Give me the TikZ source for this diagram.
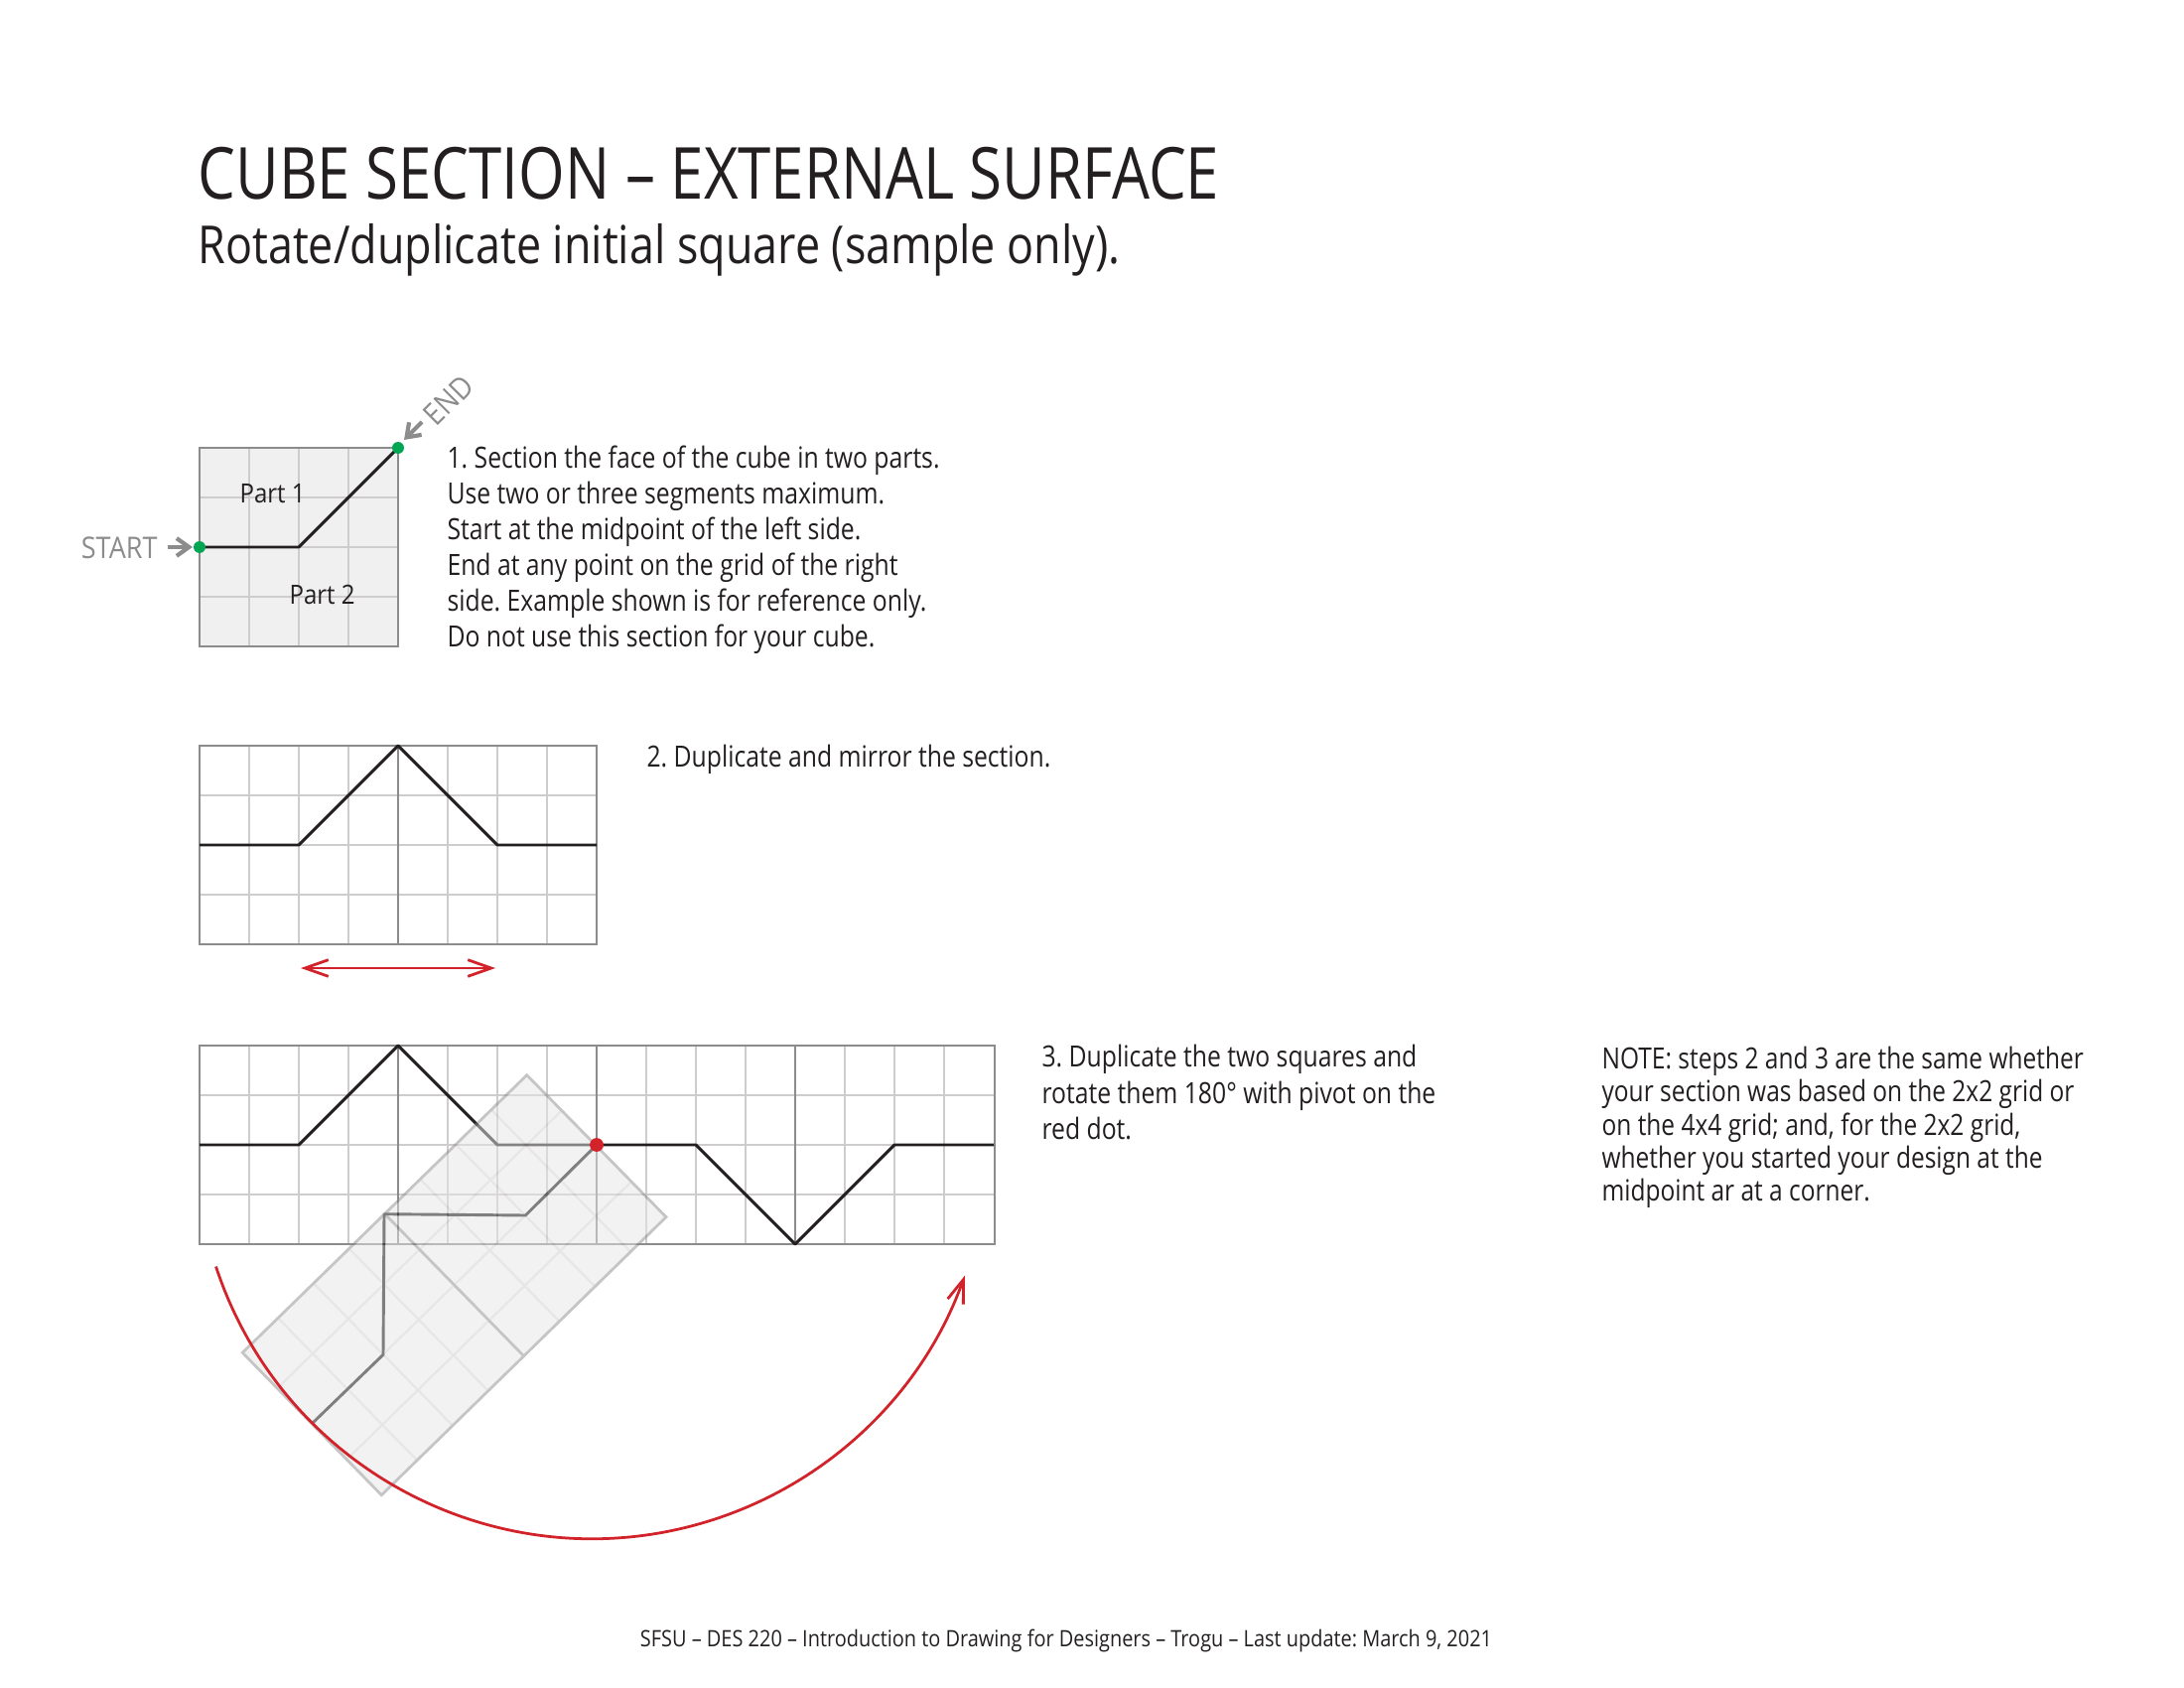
\documentclass[tikz,border=0pt]{standalone}
\usepackage{fontspec}
\usetikzlibrary{arrows.meta,calc}
\setmainfont[FakeStretch=0.9]{Open Sans}
\newfontfamily\titlefont[FakeStretch=0.83]{Open Sans}
\newfontfamily\subfont[FakeStretch=0.85]{Open Sans}
\newfontfamily\bodyfont[FakeStretch=0.84]{Open Sans}
\newfontfamily\notefont[FakeStretch=0.832]{Open Sans}
\newfontfamily\footfont[FakeStretch=0.875]{Open Sans}
\definecolor{ink}{HTML}{231F20}
\definecolor{frame}{HTML}{8C8C8C}
\definecolor{cell}{HTML}{CFCCCC}
\definecolor{redtone}{HTML}{D2232A}
\definecolor{greentone}{HTML}{00A651}
\tikzset{
  frameline/.style={draw=frame,line width=1pt},
  cellline/.style={draw=cell,line width=.75pt},
  section/.style={draw=ink,line width=1.05pt,line join=round},
  redarrow/.style={draw=redtone,line width=1pt,{Straight Barb[length=8.5pt,width=6pt,line width=1pt]}-{Straight Barb[length=8.5pt,width=6pt,line width=1pt]}},
  redarc/.style={draw=redtone,line width=1pt,-{Straight Barb[length=8.5pt,width=6pt,line width=1pt]}},
  grayarrow/.style={draw=frame,line width=1.5pt,-{Straight Barb[length=4.5pt,width=6.4pt,line width=1.5pt]}},
  txt/.style={inner sep=0pt,anchor=north west,align=left,text=ink,font=\bodyfont\fontsize{10.6pt}{13pt}\selectfont},
  dot/.style={circle,inner sep=0pt,minimum size=4.3pt},
}
\frenchspacing
\begin{document}
\begin{tikzpicture}[x=0.36pt,y=-0.36pt]
\useasboundingbox (0,0) rectangle (2200,1700);
% title
\node[inner sep=0pt,anchor=base west,text=ink,font=\titlefont\fontsize{26pt}{30pt}\selectfont] (title) at (199,201) {CUBE SECTION – EXTERNAL SURFACE};
\node[inner sep=0pt,anchor=base west,text=ink,font=\subfont\fontsize{19pt}{22pt}\selectfont] (subtitle) at (199,266) {Rotate/duplicate initial square (sample only).};
% square 1
\fill[fill=black!6] (201,451) rectangle (401,651);
\foreach \i in {1,2,3}{
  \draw[cellline] ({201+50*\i},451) -- ({201+50*\i},651);
  \draw[cellline] (201,{451+50*\i}) -- (401,{451+50*\i});
}
\draw[frameline] (201,451) rectangle (401,651);
\node[dot] (startdot) at (201,551) {};
\node[dot] (enddot) at (401,451) {};
\draw[section] (startdot.center) -- (301,551) -- (enddot.center);
\node[dot,fill=greentone] at (startdot) {};
\node[dot,fill=greentone] at (enddot) {};
\node[inner sep=0pt,anchor=base west,text=ink,font=\fontsize{9.6pt}{12pt}\selectfont] (part1) at (241,507) {Part 1};
\node[inner sep=0pt,anchor=base west,text=ink,font=\fontsize{9.6pt}{12pt}\selectfont] (part2) at (291,609) {Part 2};
\node[inner sep=0pt,anchor=east,text=frame,font=\fontsize{10.8pt}{13pt}\selectfont] (start) at (159,552) {START};
\node[inner sep=0pt,rotate=45,text=frame,font=\fontsize{11pt}{13pt}\selectfont] (endlabel) at (452,403) {END};
\coordinate (starttip) at (194,551);
\coordinate (startback) at (169,551);
\coordinate (endtip) at (407,443);
\coordinate (endback) at (425,425);
\draw[grayarrow] (startback) -- (starttip);
\draw[grayarrow] (endback) -- (endtip);
\node[txt] (step1) at (450,448) {1. Section the face of the cube in two parts.\\Use two or three segments maximum.\\Start at the midpoint of the left side.\\End at any point on the grid of the right\\side. Example shown is for reference only.\\Do not use this section for your cube.};
% grid 2
\foreach \i in {1,...,7}{\draw[cellline] ({201+50*\i},751) -- ({201+50*\i},951);}
\foreach \i in {1,2,3}{\draw[cellline] (201,{751+50*\i}) -- (601,{751+50*\i});}
\draw[frameline] (201,751) rectangle (601,951);
\draw[frameline] (401,751) -- (401,951);
\draw[section] (201,851) -- (301,851) -- (401,751) -- (501,851) -- (601,851);
\coordinate (mirrorL) at (303,975);
\coordinate (mirrorR) at (499,975);
\draw[redarrow] (mirrorL) -- (mirrorR);
\node[txt] (step2) at (651,750) {2. Duplicate and mirror the section.};
% grid 3
\foreach \i in {1,...,15}{\draw[cellline] ({201+50*\i},1053) -- ({201+50*\i},1253);}
\foreach \i in {1,2,3}{\draw[cellline] (201,{1053+50*\i}) -- (1002,{1053+50*\i});}
\draw[frameline] (201,1053) rectangle (1002,1253);
\foreach \i in {401,601,801}{\draw[frameline] (\i,1053) -- (\i,1253);}
\draw[section] (201,1153) -- (301,1153) -- (401,1053) -- (501,1153) -- (601,1153) -- (701,1153) -- (801,1253) -- (901,1153) -- (1001,1153);
% rotated rectangle
\coordinate (T) at (530.7,1082.7);
\coordinate (R) at (671,1225.7);
\coordinate (B) at (384.3,1505.7);
\coordinate (L) at (244.3,1362.3);
\begin{scope}[transparency group,opacity=.5]
\fill[black!10] (T) -- (R) -- (B) -- (L) -- cycle;
\foreach \i in {1,2,3,5,6,7}{\draw[cellline] ($(T)!\i/8!(L)$) -- ($(R)!\i/8!(B)$);}
\foreach \i in {1,2,3}{\draw[cellline] ($(T)!\i/4!(R)$) -- ($(L)!\i/4!(B)$);}
\draw[frameline] (T) -- (R) -- (B) -- (L) -- cycle;
\draw[frameline] ($(T)!.5!(L)$) -- ($(R)!.5!(B)$);
\draw[section,draw=black] (601,1153) -- (529.3,1224) -- (387,1222.7) -- (386,1364.3) -- (315.7,1432.3);
\end{scope}
\node[dot,fill=redtone,minimum size=5pt] (pivot) at (601,1153) {};
\draw[redarc] (217.5,1275.5) arc[start angle=161.8,end angle=19.6,radius=398.7];
\node[txt] (step3) at (1049,1052) {3. Duplicate the two squares and\\rotate them 180° with pivot on the\\red dot.};
\node[txt,font=\notefont\fontsize{10.6pt}{12pt}\selectfont] (note) at (1613,1053.5) {NOTE: steps 2 and 3 are the same whether\\your section was based on the 2x2 grid or\\on the 4x4 grid; and, for the 2x2 grid,\\whether you started your design at the\\midpoint ar at a corner.};
\node[inner sep=0pt,anchor=base,text=ink,font=\footfont\fontsize{8.2pt}{10pt}\selectfont] (footer) at (1074,1658) {SFSU – DES 220 – Introduction to Drawing for Designers – Trogu – Last update: March 9, 2021};
\end{tikzpicture}
\end{document}
